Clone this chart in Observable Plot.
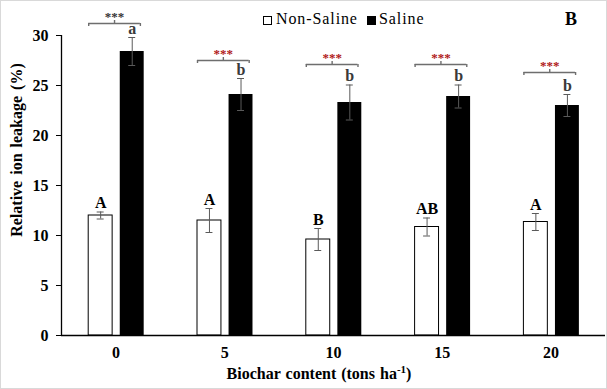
<!DOCTYPE html>
<html>
<head>
<meta charset="utf-8">
<script src="https://cdn.jsdelivr.net/npm/d3@7"></script>
<script src="https://cdn.jsdelivr.net/npm/@observablehq/plot@0.6"></script>
<style>
  html, body { margin: 0; padding: 0; background: #fff; }
  #wrap { position: relative; width: 607px; height: 389px; box-sizing: border-box; border: 1px solid #d9d9d9; font-family: "Liberation Serif", "Times New Roman", serif; overflow: hidden; }
  #chart { position: absolute; left: 0; top: 0; }
  #chart svg text { font-weight: bold; }
  .abs { position: absolute; white-space: nowrap; line-height: 16px; font-size: 16px; color: #000; font-family: "Liberation Serif", "Times New Roman", serif; }
  .sq { position: absolute; width: 7px; height: 7px; border: 1px solid #000; }
</style>
</head>
<body>
<div id="wrap">
  <div id="chart"></div>
  <div class="sq" style="left:262px; top:15px; background:#fff;"></div>
  <div class="abs" id="lg1" style="left:275px; top:10px; letter-spacing:0.9px;"></div>
  <div class="sq" style="left:366px; top:15px; background:#000;"></div>
  <div class="abs" id="lg2" style="left:378px; top:10px; letter-spacing:0.9px;"></div>
  <div class="abs" id="panel" style="left:564px; top:9px; font-size:18px; line-height:18px; font-weight:bold;"></div>
  <div class="abs" id="ylab" style="left:16px; top:149px; font-weight:bold; word-spacing:2px; transform: translate(-50%,-50%) rotate(-90deg);"></div>
  <div class="abs" id="xlab" style="left:318px; top:365px; font-weight:bold; word-spacing:1px; transform: translateX(-50%);"></div>
</div>
<script>
// ---- data ----
const categories = ["0", "5", "10", "15", "20"];
const seriesNames = ["Non-Saline", "Saline"];
const nonSaline = [12.0, 11.5, 9.6, 10.85, 11.35];
const nonSalineErr = [0.35, 1.2, 1.1, 0.9, 0.85];
const saline = [28.4, 24.1, 23.3, 23.9, 23.0];
const salineErr = [1.4, 1.6, 1.75, 1.15, 1.1];
const nonSalineLetters = ["A", "A", "B", "AB", "A"];
const salineLetters = ["a", "b", "b", "b", "b"];
const sigLabels = ["***", "***", "***", "***", "***"];
const bracketLevel = [31.2, 27.5, 27.1, 27.1, 26.3];
const yTicks = [0, 5, 10, 15, 20, 25, 30];
const yTitle = "Relative ion leakage (%)";
const xTitle = "Biochar content (tons ha";
const xTitleSup = "-1";
const panelLabel = "B";

// ---- layout constants (offsets inside each category slot) ----
const nsL = -0.25, nsR = -0.03, sL = 0.04, sR = 0.26;
const nsC = (nsL + nsR) / 2, sC = (sL + sR) / 2;
const cap = 0.032;
const brL = -0.25, brR = 0.225, brM = (brL + brR) / 2;

const rows = categories.map((c, i) => ({
  i, cat: c,
  ns: nonSaline[i], nsE: nonSalineErr[i], nsLet: nonSalineLetters[i],
  s: saline[i], sE: salineErr[i], sLet: salineLetters[i],
  sig: sigLabels[i], br: bracketLevel[i]
}));

const errColor = "#5a5a5a";
const brColor = "#6e6e6e";

const chart = Plot.plot({
  width: 605,
  height: 387,
  marginLeft: 60,
  marginRight: 1,
  marginTop: 34,
  marginBottom: 53,
  style: { fontFamily: "Liberation Serif, Times New Roman, serif", fontSize: "16px", color: "#000", background: "transparent" },
  x: { domain: [-0.5, 4.5], axis: null },
  y: { domain: [0, 30], axis: null },
  marks: [
    // bars
    Plot.rectY(rows, { x1: d => d.i + nsL, x2: d => d.i + nsR, y: "ns", fill: "white", stroke: "black", strokeWidth: 1 }),
    Plot.rectY(rows, { x1: d => d.i + sL, x2: d => d.i + sR, y: "s", fill: "black" }),
    // error bars
    Plot.ruleX(rows, { x: d => d.i + nsC, y1: d => d.ns - d.nsE, y2: d => d.ns + d.nsE, stroke: errColor }),
    Plot.ruleY(rows, { y: d => d.ns + d.nsE, x1: d => d.i + nsC - cap, x2: d => d.i + nsC + cap, stroke: errColor }),
    Plot.ruleY(rows, { y: d => d.ns - d.nsE, x1: d => d.i + nsC - cap, x2: d => d.i + nsC + cap, stroke: errColor }),
    Plot.ruleX(rows, { x: d => d.i + sC, y1: d => d.s - d.sE, y2: d => d.s + d.sE, stroke: errColor }),
    Plot.ruleY(rows, { y: d => d.s + d.sE, x1: d => d.i + sC - cap, x2: d => d.i + sC + cap, stroke: errColor }),
    Plot.ruleY(rows, { y: d => d.s - d.sE, x1: d => d.i + sC - cap, x2: d => d.i + sC + cap, stroke: errColor }),
    // letters
    Plot.text(rows, { x: d => d.i + nsC, y: d => d.ns + d.nsE, text: "nsLet", lineAnchor: "middle", dy: -9, fontSize: 16, fill: "#000" }),
    Plot.text(rows, { x: d => d.i + sC, y: d => d.s + d.sE, text: "sLet", lineAnchor: "middle", dy: -9, fontSize: 16, fill: "#3a3a3a" }),
    // significance brackets
    Plot.ruleY(rows, { y: "br", x1: d => d.i + brL, x2: d => d.i + brR, stroke: brColor, strokeWidth: 1.4 }),
    Plot.ruleX(rows, { x: d => d.i + brL, y1: "br", y2: d => d.br - 0.3, stroke: brColor, strokeWidth: 1.4 }),
    Plot.ruleX(rows, { x: d => d.i + brR, y1: "br", y2: d => d.br - 0.3, stroke: brColor, strokeWidth: 1.4 }),
    Plot.ruleX(rows, { x: d => d.i + brM, y1: "br", y2: d => d.br + 0.3, stroke: brColor, strokeWidth: 1.4 }),
    Plot.text(rows, { x: d => d.i + brM, y: "br", text: "sig", lineAnchor: "middle", dy: -7, fontSize: 13,
      fill: d => d.i === 0 ? "#333333" : "#b01818" }),
    // axes lines
    Plot.ruleY([0], { stroke: "black", strokeWidth: 1.3 }),
    Plot.ruleX([-0.5], { y1: 0, y2: 30, stroke: "black", strokeWidth: 1.3 }),
    Plot.axisY({ ticks: yTicks, tickSize: 5, tickPadding: 8, label: null, fontSize: 16 }),
    Plot.axisX({ ticks: categories.map((c, i) => i), tickFormat: i => categories[i], tickSize: 0, tickPadding: 11, label: null, fontSize: 16 })
  ]
});
document.getElementById("chart").append(chart);

document.getElementById("lg1").textContent = seriesNames[0];
document.getElementById("lg2").textContent = seriesNames[1];
document.getElementById("panel").textContent = panelLabel;
document.getElementById("ylab").textContent = yTitle;
const xl = document.getElementById("xlab");
xl.textContent = xTitle;
const sup = document.createElement("sup");
sup.textContent = xTitleSup;
sup.style.fontSize = "11px";
sup.style.lineHeight = "0";
xl.append(sup, document.createTextNode(")"));
</script>
</body>
</html>
